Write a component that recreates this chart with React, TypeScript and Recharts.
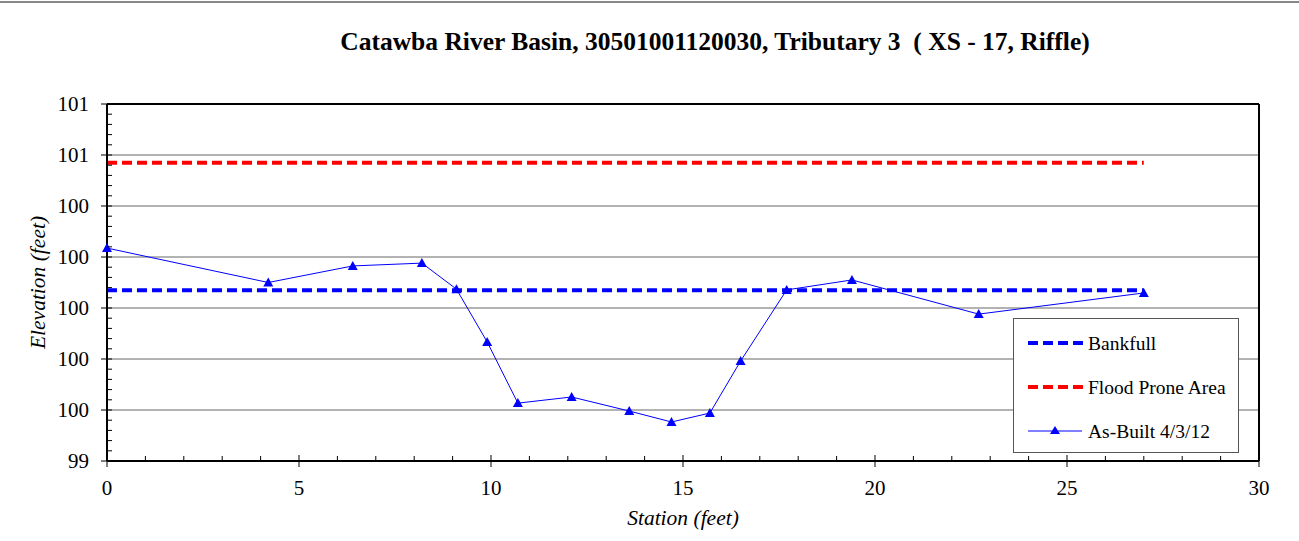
import React from "react";
import {
  LineChart,
  Line,
  XAxis,
  YAxis,
  ReferenceLine,
  Label,
} from "recharts";

// station (ft) / elevation (ft) pairs
const stations = [0, 4.2, 6.4, 8.2, 9.1, 9.9, 10.7, 12.1, 13.6, 14.7, 15.7, 16.5, 17.7, 19.4, 22.7, 27.0];
const elevations = [100.235, 100.1, 100.165, 100.176, 100.074, 99.867, 99.627, 99.651, 99.596, 99.553, 99.588, 99.792, 100.071, 100.11, 99.976, 100.059];

const bankfullElev = 100.07;
const floodProneElev = 100.57;
const levelStations = [0, 27];

const xTicks = [0, 5, 10, 15, 20, 25, 30];
const yTicks = [99.4, 99.6, 99.8, 100.0, 100.2, 100.4, 100.6, 100.8];

const asBuilt = stations.map((x, i) => ({ x, y: elevations[i] }));
const bankfull = levelStations.map((x) => ({ x, y: bankfullElev }));
const floodProne = levelStations.map((x) => ({ x, y: floodProneElev }));

// minor tick positions (1 ft on x, 0.04 ft on y)
const xMinor: number[] = [];
for (let v = 0; v <= 30; v++) xMinor.push(v);
const yMinor: number[] = [];
for (let i = 0; i <= 35; i++) yMinor.push(Math.round((99.4 + i * 0.04) * 100) / 100);

const FONT = "'Liberation Serif', 'Times New Roman', serif";
const BLUE = "#0000ff";

const isMajor = (v: number, list: number[]) => list.some((t) => Math.abs(t - v) < 1e-6);

const XTick = ({ x, y, payload }: any) => {
  const major = isMajor(payload.value, xTicks);
  return (
    <g>
      <line x1={x} x2={x} y1={major ? y - 6 : y - 5} y2={major ? y + 6 : y} stroke="#000" strokeWidth={1} />
      {major && (
        <text x={x} y={y + 34} textAnchor="middle" fontFamily={FONT} fontSize={21} fill="#000">
          {payload.value}
        </text>
      )}
    </g>
  );
};

const YTick = ({ x, y, payload }: any) => {
  const major = isMajor(payload.value, yTicks);
  return (
    <g>
      <line x1={major ? x - 6 : x} x2={x + 5} y1={y} y2={y} stroke="#000" strokeWidth={1} />
      {major && (
        <text x={x - 18} y={y + 7} textAnchor="end" fontFamily={FONT} fontSize={21} fill="#000">
          {Math.round(payload.value)}
        </text>
      )}
    </g>
  );
};

const LegendBox = () => (
  <div
    style={{
      position: "absolute",
      left: 1013,
      top: 318,
      width: 226,
      height: 135,
      border: "1px solid #555",
      background: "#fff",
      boxSizing: "border-box",
    }}
  >
    <svg width={224} height={133} style={{ display: "block" }}>
      <line x1={14} x2={70} y1={24} y2={24} stroke={BLUE} strokeWidth={4} strokeDasharray="10 5" />
      <text x={74} y={31} fontFamily={FONT} fontSize={19.5}>Bankfull</text>
      <line x1={14} x2={70} y1={68} y2={68} stroke="#ff0000" strokeWidth={4} strokeDasharray="10 5" />
      <text x={74} y={75} fontFamily={FONT} fontSize={19.5}>Flood Prone Area</text>
      <line x1={14} x2={68} y1={112} y2={112} stroke={BLUE} strokeWidth={1} />
      <polygon points="41,107 46,115 36,115" fill={BLUE} />
      <text x={74} y={119} fontFamily={FONT} fontSize={19.5}>As-Built 4/3/12</text>
    </svg>
  </div>
);

const Triangle = ({ cx, cy }: any) => (
  <polygon points={`${cx},${cy - 5} ${cx + 5},${cy + 4} ${cx - 5},${cy + 4}`} fill={BLUE} />
);

export default function App() {
  return (
    <div style={{ position: "absolute", left: 0, top: 0, width: 1299, height: 541, background: "#fff" }}>
      <div style={{ position: "absolute", left: 0, top: 1, width: 1299, borderTop: "2px solid #888" }} />
      <div
        style={{
          position: "absolute",
          top: 27,
          left: 130,
          width: 1170,
          textAlign: "center",
          fontFamily: FONT,
          fontWeight: "bold",
          fontSize: 25.5,
        }}
      >
        Catawba River Basin, 30501001120030, Tributary 3&nbsp; ( XS - 17, Riffle)
      </div>
      <LineChart width={1299} height={541} margin={{ top: 104, right: 40, bottom: 50, left: 0 }}>
        <XAxis
          type="number"
          dataKey="x"
          domain={[0, 30]}
          ticks={xMinor}
          interval={0}
          tickSize={0}
          tickMargin={0}
          tickLine={false}
          tick={<XTick />}
          height={30}
          axisLine={{ stroke: "#000", strokeWidth: 2 }}
        >
          <Label value="Station (feet)" position="bottom" offset={19} fontFamily={FONT} fontStyle="italic" fontSize={21.5} fill="#000" />
        </XAxis>
        <YAxis
          type="number"
          dataKey="y"
          domain={[99.4, 100.8]}
          ticks={yMinor}
          interval={0}
          tickSize={0}
          tickMargin={0}
          tickLine={false}
          tick={<YTick />}
          width={107}
          allowDataOverflow
          axisLine={{ stroke: "#000", strokeWidth: 2 }}
        >
          <Label value="Elevation (feet)" angle={-90} position="center" dx={-16} fontFamily={FONT} fontStyle="italic" fontSize={21.5} fill="#000" />
        </YAxis>
        {yTicks.slice(1).map((v) => (
          <ReferenceLine key={v} y={v} stroke="#666" strokeWidth={1} />
        ))}
        <ReferenceLine x={30} stroke="#000" strokeWidth={2} />
        <ReferenceLine y={100.8} stroke="#000" strokeWidth={2} />
        <Line
          data={floodProne}
          dataKey="y"
          stroke="#ff0000"
          strokeWidth={4}
          strokeDasharray="10 5"
          dot={false}
          isAnimationActive={false}
        />
        <Line
          data={bankfull}
          dataKey="y"
          stroke={BLUE}
          strokeWidth={4}
          strokeDasharray="10 5"
          dot={false}
          isAnimationActive={false}
        />
        <Line
          data={asBuilt}
          dataKey="y"
          stroke={BLUE}
          strokeWidth={1}
          dot={<Triangle />}
          isAnimationActive={false}
        />
      </LineChart>
      <LegendBox />
    </div>
  );
}
